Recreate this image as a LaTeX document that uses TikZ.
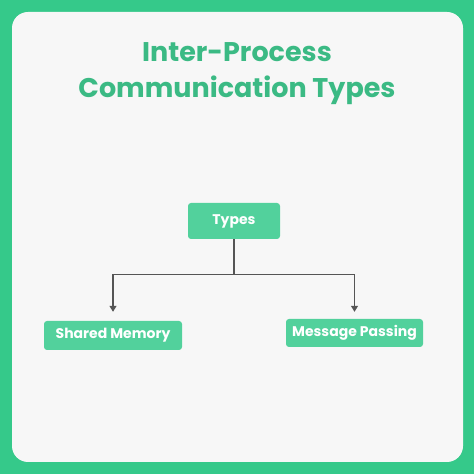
\documentclass[tikz,border=0pt]{standalone}
\usepackage{fontspec}
\setmainfont{Poppins}
\usepackage{tikz}
\usetikzlibrary{arrows.meta,positioning,calc}
\definecolor{framegreen}{HTML}{35C98A}
\definecolor{titlegreen}{HTML}{3BBA84}
\definecolor{typegreen}{HTML}{52D19C}
\definecolor{panelbg}{HTML}{F7F7F7}
\definecolor{linegray}{HTML}{555555}
\tikzset{
  typebox/.style={fill=typegreen,rounded corners=3pt,align=center,
    text=white,font=\bfseries\fontsize{14}{16}\selectfont,inner sep=0pt},
  branch/.style={draw=linegray,line width=1.2pt},
  brancharrow/.style={branch,-{Triangle[length=6pt,width=7pt]},shorten >=9pt},
  titlelabel/.style={font=\bfseries\fontsize{27}{36}\selectfont,text=titlegreen,align=center}
}

\begin{document}
\begin{tikzpicture}[x=1pt,y=1pt]
  \useasboundingbox (0,0) rectangle (474,474);
  \fill[framegreen] (0,0) rectangle (474,474);
  \fill[panelbg,rounded corners=16pt] (12,12) rectangle (463,462);

  \node[titlelabel] (title) at (237,400) {Inter-Process\\Communication Types};

  \node[typebox,minimum width=92pt,minimum height=36pt] (types) at (234,253) {Types};
  \node[typebox,minimum width=138pt,minimum height=29pt] (shared) at (113,138.5) {Shared Memory};
  \node[typebox,minimum width=137pt,minimum height=28pt] (message) at (354.5,141) {Message Passing};

  \coordinate (split) at ($(types.south)+(0,-35)$);
  \draw[branch] (types.south) -- (split);
  \draw[brancharrow] (split) -| (shared.north);
  \draw[brancharrow] (split) -| ($(message.north)+(0,-2)$);
\end{tikzpicture}
\end{document}
